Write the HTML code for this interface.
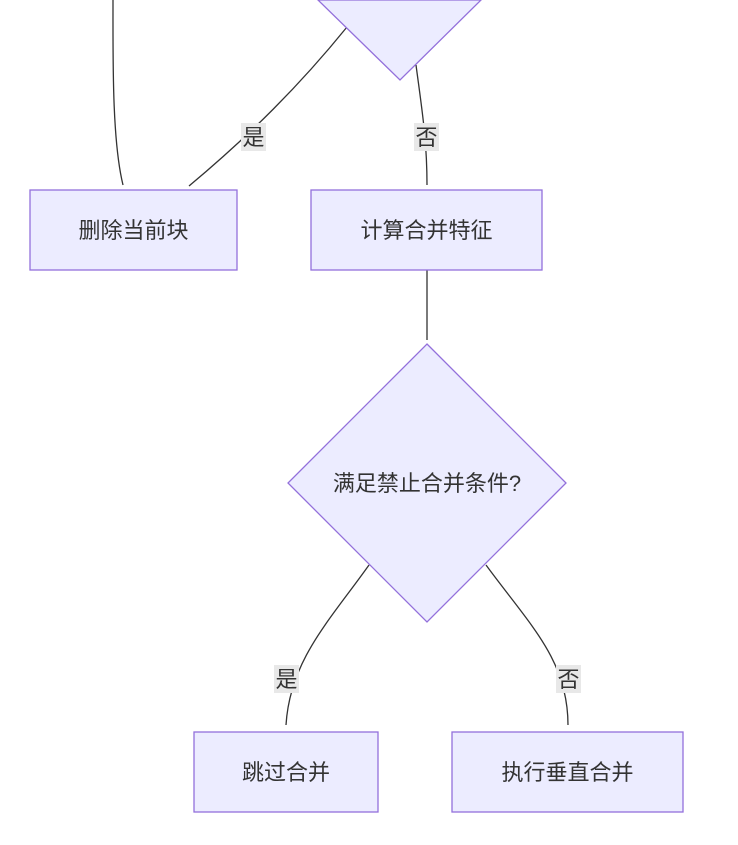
<!DOCTYPE html>
<html><head><meta charset="utf-8"><style>
html,body{margin:0;padding:0;background:#fff;width:738px;height:845px;overflow:hidden}
text{font-family:"Liberation Sans","Noto Sans CJK SC",sans-serif;fill:#333}
</style></head><body>
<svg width="738" height="845" viewBox="0 0 738 845" xmlns="http://www.w3.org/2000/svg">
<g fill="none" stroke="#333" stroke-width="1.3">
<path d="M113,0 C113,60 112,140 123,185"/>
<path d="M347,27 C300,85 250,135 189,186"/>
<path d="M416,65 C422,110 427,140 427,185"/>
<path d="M427,270 L427,340"/>
<path d="M369,565 C330,620 290,660 286,725"/>
<path d="M486,565 C530,625 568,660 568,725"/>
</g>
<polygon points="318,0 481,0 400,80" fill="#ececff" stroke="#9370db" stroke-width="1.3"/>
<polygon points="427,344 566,483 427,622 288,483" fill="#ececff" stroke="#9370db" stroke-width="1.3"/>
<g fill="#ececff" stroke="#9370db" stroke-width="1.3">
<rect x="30" y="190" width="207" height="80"/>
<rect x="311" y="190" width="231" height="80"/>
<rect x="194" y="732" width="184" height="80"/>
<rect x="452" y="732" width="231" height="80"/>
</g>
<g fill="#e8e8e8">
<rect x="241" y="123" width="25" height="28"/>
<rect x="414" y="123" width="25" height="28"/>
<rect x="274" y="665" width="25" height="28"/>
<rect x="556" y="665" width="25" height="28"/>
</g>
<g font-size="22" text-anchor="middle">
<text x="253.5" y="145">是</text>
<text x="426.5" y="145">否</text>
<text x="286.5" y="687">是</text>
<text x="568.5" y="687">否</text>
<text x="133.5" y="238">删除当前块</text>
<text x="426.5" y="238">计算合并特征</text>
<text x="427" y="491">满足禁止合并条件?</text>
<text x="286" y="780">跳过合并</text>
<text x="567.5" y="780">执行垂直合并</text>
</g>
</svg>
</body></html>
